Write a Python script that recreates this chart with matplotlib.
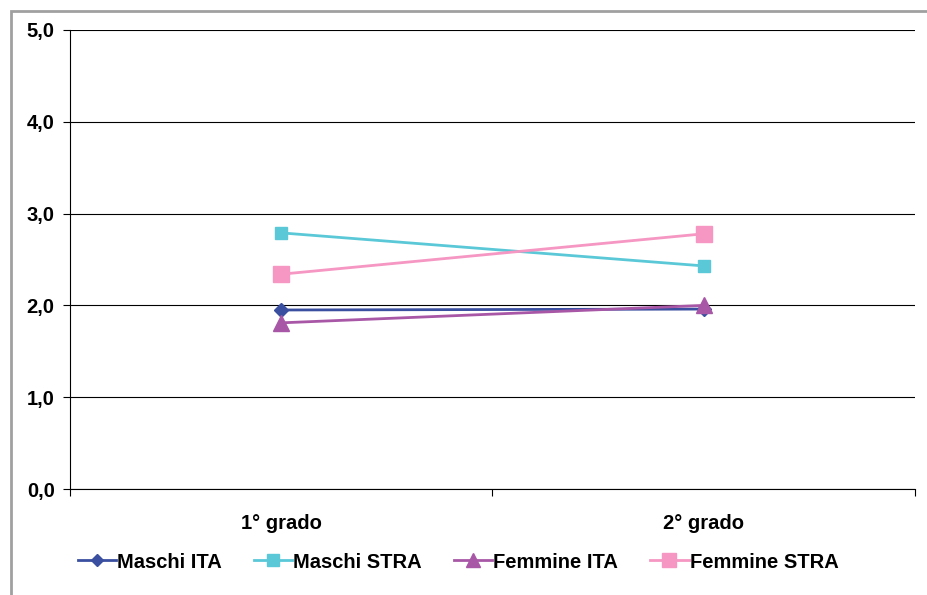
import matplotlib
matplotlib.use("Agg")
import matplotlib.pyplot as plt
from matplotlib.patches import Rectangle

categories = ["1° grado", "2° grado"]
series_names = ["Maschi ITA", "Maschi STRA", "Femmine ITA", "Femmine STRA"]
maschi_ita = [1.95, 1.96]
maschi_stra = [2.79, 2.43]
femmine_ita = [1.81, 2.00]
femmine_stra = [2.34, 2.78]
y_ticks = [0, 1, 2, 3, 4, 5]

plt.rcParams['font.family'] = ['Liberation Sans', 'DejaVu Sans']
FS = 14.5

fig = plt.figure(figsize=(9.28, 5.95), dpi=100)
fig.patches.append(Rectangle((11/928, -0.1), 1.2, (595-11)/595 + 0.1, transform=fig.transFigure,
                             fill=False, edgecolor="#a0a0a0", linewidth=2.0, zorder=0))
ax = fig.add_axes([70/928, (595-489)/595, (915-70)/928, (489-30)/595])

xs = [0.5 + i for i in range(len(categories))]
styles = [
    (maschi_ita, "#3B4FA0", "D", 7),
    (maschi_stra, "#5BC8D8", "s", 9),
    (femmine_ita, "#A857A6", "^", 11),
    (femmine_stra, "#F597C2", "s", 11),
]
for name, (vals, col, mk, ms) in zip(series_names, styles):
    ax.plot(xs, vals, color=col, marker=mk, markersize=ms, linewidth=2, label=name, zorder=3)

ax.set_xlim(0, 2)
ax.set_ylim(0, 5)
ax.set_yticks(y_ticks)
ax.set_yticklabels([f"{v:.1f}".replace(".", ",") for v in y_ticks], fontsize=FS, fontweight="bold")
ax.yaxis.grid(True, color="black", linewidth=0.8)
ax.set_axisbelow(True)
ax.set_xticks([0, 1, 2])
ax.set_xticklabels([])
ax.set_xticks(xs, minor=True)
ax.set_xticklabels(categories, minor=True, fontsize=FS, fontweight="bold")
ax.tick_params(axis="x", which="minor", length=0, pad=18)
ax.tick_params(axis="x", which="major", length=5, color="black", direction="out")
ax.tick_params(axis="y", length=5, color="black", direction="out", pad=6)
for s in ["top", "right"]:
    ax.spines[s].set_visible(False)
ax.spines["left"].set_color("black")
ax.spines["bottom"].set_color("black")
ax.spines["left"].set_linewidth(0.8)
ax.spines["bottom"].set_linewidth(0.8)

leg = fig.legend(loc="center", bbox_to_anchor=(458/928, 1 - 562/595), ncol=4, frameon=False,
                 prop={"size": FS, "weight": "bold"}, handlelength=1.9, columnspacing=1.6,
                 handletextpad=0.05, markerscale=0.9)

fig.savefig("out.png", dpi=100)
